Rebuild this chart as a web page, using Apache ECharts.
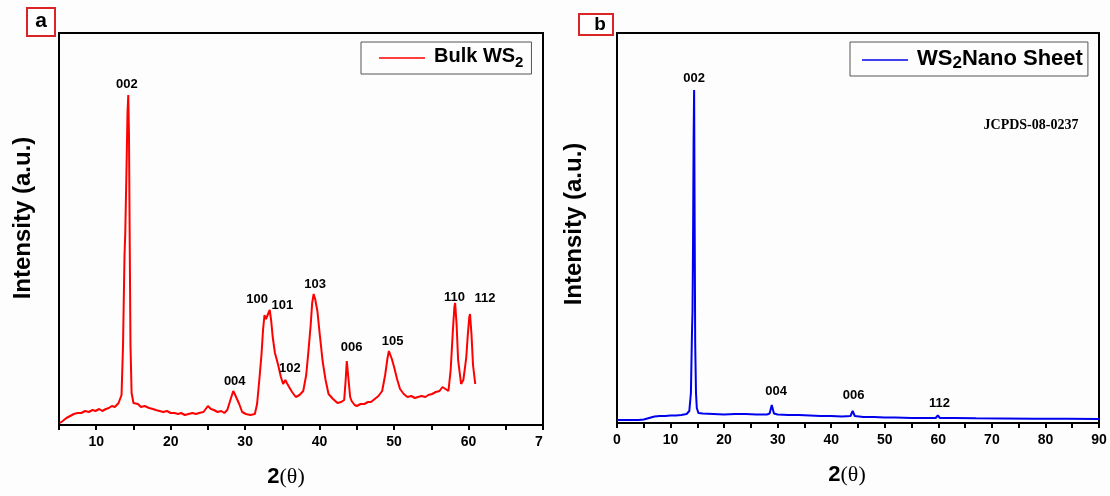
<!DOCTYPE html>
<html>
<head>
<meta charset="utf-8">
<script src="https://cdn.jsdelivr.net/npm/echarts@6/dist/echarts.min.js"></script>
<style>
  html, body { margin: 0; padding: 0; background: #fdfdfd; }
  #chart { width: 1110px; height: 496px; }
</style>
</head>
<body>
<div id="chart"></div>
<script>
// XRD patterns, [2theta, intensity a.u.]
const bulkWS2 = [
  [5.1,2],[5.5,4],[6.0,7],[6.5,9],[7.0,11],[7.5,12],[8.0,12],[8.5,14],[9.0,13],[9.5,15],[9.9,14],
  [10.4,16],[10.8,14],[11.3,16],[11.7,17],[12.1,19],[12.5,18],[13.0,22],[13.2,26],[13.4,30],
  [13.6,80],[13.8,170],[13.9,192],[14.05,250],[14.2,312],[14.3,330],[14.4,290],[14.5,180],[14.6,80],
  [14.75,32],[15.0,22],[15.2,20],[15.6,21],[16.0,18],[16.5,19],[17.1,17],[17.6,16],[18.0,15],[18.5,14],
  [19.0,13],[19.5,14],[20.0,12],[20.5,12],[21.0,11],[21.4,12],[21.9,10],[22.4,11],[22.9,12],[23.4,11],
  [23.8,12],[24.4,13],[25.0,19],[25.4,16],[25.8,15],[26.3,13],[26.8,14],[27.2,12],[27.6,15],[28.1,27],
  [28.4,34],[28.6,31],[28.8,33],[29.2,21],[29.6,13],[30.1,11],[30.7,10],[31.3,11],[31.6,21],[31.9,45],
  [32.2,71],[32.4,95],[32.6,110],[32.8,106],[33.0,108],[33.3,115],[33.5,104],[33.7,88],[34.0,72],
  [34.4,61],[34.8,48],[35.1,41],[35.4,45],[35.6,42],[35.9,38],[36.3,33],[36.8,28],[37.3,30],[37.8,34],
  [38.2,50],[38.5,74],[38.8,100],[39.0,122],[39.2,131],[39.4,126],[39.7,114],[40.0,92],[40.4,64],
  [40.8,45],[41.2,31],[41.8,26],[42.4,22],[42.9,23],[43.3,25],[43.5,45],[43.65,64],[43.85,48],[44.1,28],
  [44.3,24],[44.7,20],[45.0,19],[45.5,21],[46.0,21],[46.5,23],[46.9,23],[47.4,26],[47.9,29],[48.4,34],
  [48.8,50],[49.1,66],[49.3,74],[49.5,70],[49.7,66],[50.0,58],[50.4,46],[50.8,36],[51.3,31],[51.8,28],
  [52.3,29],[52.8,27],[53.2,28],[53.7,29],[54.2,28],[54.6,30],[55.1,31],[55.6,33],[56.1,34],[56.5,38],
  [56.9,36],[57.3,34],[57.6,55],[57.9,95],[58.1,118],[58.2,122],[58.4,100],[58.6,65],[59.0,41],
  [59.3,45],[59.5,56],[59.7,68],[59.9,90],[60.1,108],[60.2,111],[60.4,90],[60.6,60],[60.9,41]
];
const nanoWS2 = [
  [0,3],[2,3],[4,3],[5,3.5],[6,5],[7,6.5],[8,7],[9,7],[10,7.5],[11,7.5],[12,8],[13,9],[13.5,12],
  [13.8,30],[14.0,90],[14.1,112],[14.2,180],[14.3,280],[14.4,333],[14.5,200],[14.6,80],[14.75,30],
  [14.9,15],[15.2,10],[16,9.5],[18,9],[20,8.5],[22,9],[24,9],[26,8.5],[28,8.5],[28.5,9.5],[28.9,18],
  [29.3,9.5],[30,8.5],[32,8],[34,8],[36,7.5],[38,7],[40,7],[42,6.5],[43.6,7],[44.0,12],[44.4,7],
  [46,6],[48,6],[50,5.5],[52,5.5],[55,5],[57,5],[59.5,5],[59.9,7.5],[60.3,5],[63,5],[67,4.7],
  [72,4.5],[78,4.3],[84,4.2],[90,4]
];
// peak (hkl) labels: [2theta, height, text]
const bulkPeaks = [
  [14.1,341,'002'],[28.6,44,'004'],[31.6,126,'100'],[35.0,120,'101'],[36.0,57,'102'],
  [39.4,141,'103'],[44.3,78,'006'],[49.8,84,'105'],[58.1,128,'110'],[62.2,127,'112']
];
const nanoPeaks = [
  [14.4,345,'002'],[29.7,32,'004'],[44.2,28,'006'],[60.2,20,'112']
];
const bulkTicks = [5, 70];
const nanoTicks = [0, 90];

const sans = 'Liberation Sans, Arial, sans-serif';
const serif = 'Liberation Serif, Times New Roman, serif';

const chart = echarts.init(document.getElementById('chart'));

// the bulk panel's last label is cut to "7" in the original figure
const xAxisBase = (ticks, gridIndex, cutLast) => ({
  type: 'value',
  gridIndex,
  min: ticks[0],
  max: ticks[1],
  interval: 5,
  axisLine: { lineStyle: { color: '#000', width: 2 } },
  axisTick: { inside: false, length: 5, lineStyle: { color: '#000', width: 2 } },
  axisLabel: {
    color: '#000', fontFamily: sans, fontWeight: 'bold', fontSize: 14, margin: 10,
    showMinLabel: true, showMaxLabel: true,
    formatter: (v) => (v % 10 !== 0 ? '' : (cutLast && v === ticks[1] ? '{cut|7}' : String(v))),
    rich: { cut: { color: '#000', fontFamily: sans, fontWeight: 'bold', fontSize: 14, padding: [0, 8, 0, 0] } }
  },
  splitLine: { show: false },
  name: '{a|2}{b|(θ)}',
  nameLocation: 'middle',
  nameGap: 41,
  nameTextStyle: {
    padding: [0, cutLast ? 30 : 22, 0, 0],
    rich: {
      a: { fontFamily: sans, fontWeight: 'bold', fontSize: 22, color: '#000' },
      b: { fontFamily: serif, fontSize: 22, color: '#000' }
    }
  }
});

const yAxisBase = (max, gridIndex, gap, shift) => ({
  type: 'value',
  gridIndex,
  min: 0,
  max,
  axisLine: { show: true, lineStyle: { color: '#000', width: 2 } },
  axisTick: { show: false },
  axisLabel: { show: false },
  splitLine: { show: false },
  name: 'Intensity (a.u.)',
  nameLocation: 'middle',
  nameGap: gap,
  nameTextStyle: { fontFamily: sans, fontWeight: 'bold', fontSize: 24, color: '#000', padding: [0, 0, 0, shift] }
});

const peakMarks = (peaks) => ({
  symbol: 'circle',
  symbolSize: 0,
  silent: true,
  label: {
    show: true, position: 'inside', formatter: '{b}',
    color: '#000', fontFamily: sans, fontWeight: 'bold', fontSize: 13
  },
  data: peaks.map((p) => ({ name: p[2], coord: [p[0], p[1]] }))
});

const legendBase = (name, left, text, size, pad) => ({
  left, top: 42,
  data: [{ name, icon: 'rect' }],
  borderColor: '#555',
  borderWidth: 1,
  padding: pad,
  itemWidth: 46,
  itemHeight: 1.5,
  itemGap: 0,
  selectedMode: false,
  formatter: () => text,
  textStyle: {
    padding: [0, 0, 0, 4],
    rich: {
      m: { fontFamily: sans, fontWeight: 'bold', fontSize: size, color: '#000', lineHeight: 24, verticalAlign: 'top' },
      s: { fontFamily: sans, fontWeight: 'bold', fontSize: size - 5, color: '#000', lineHeight: 22, padding: [8, 0, 0, 0], verticalAlign: 'bottom' }
    }
  }
});

const option = {
  backgroundColor: '#fdfdfd',
  animation: false,
  grid: [
    { left: 59, top: 33, width: 484, height: 392, show: true, borderColor: '#000', borderWidth: 2 },
    { left: 617, top: 33, width: 482, height: 390, show: true, borderColor: '#000', borderWidth: 2 }
  ],
  xAxis: [xAxisBase(bulkTicks, 0, true), xAxisBase(nanoTicks, 1, false)],
  yAxis: [yAxisBase(392, 0, 24, 22), yAxisBase(390, 1, 31, 8)],
  legend: [
    legendBase('Bulk WS2', 361, '{m|Bulk WS}{s|2}', 20, [4, 8, 4, 18]),
    legendBase('WS2Nano Sheet', 850, '{m|WS}{s|2}{m|Nano Sheet}', 22, [5, 5, 4, 12])
  ],
  series: [
    {
      name: 'Bulk WS2', type: 'line', xAxisIndex: 0, yAxisIndex: 0,
      data: bulkWS2, symbol: 'none', color: '#ff0000',
      lineStyle: { color: '#ff0000', width: 2 },
      markPoint: peakMarks(bulkPeaks)
    },
    {
      name: 'WS2Nano Sheet', type: 'line', xAxisIndex: 1, yAxisIndex: 1,
      data: nanoWS2, symbol: 'none', color: '#0000ee',
      lineStyle: { color: '#0000ee', width: 2 },
      markPoint: peakMarks(nanoPeaks)
    }
  ],
  graphic: [
    { type: 'rect', shape: { x: 27, y: 8, width: 28, height: 28 }, style: { fill: '#fff', stroke: '#d92525', lineWidth: 2 } },
    { type: 'text', x: 41, y: 21, style: { text: 'a', fontFamily: sans, fontWeight: 'bold', fontSize: 21, fill: '#000', align: 'center', verticalAlign: 'middle' } },
    { type: 'rect', shape: { x: 579, y: 14, width: 34, height: 21 }, style: { fill: '#fff', stroke: '#d92525', lineWidth: 2 } },
    { type: 'text', x: 600, y: 25, style: { text: 'b', fontFamily: sans, fontWeight: 'bold', fontSize: 19, fill: '#000', align: 'center', verticalAlign: 'middle' } },
    { type: 'text', x: 1031, y: 125, style: { text: 'JCPDS-08-0237', fontFamily: serif, fontWeight: 'bold', fontSize: 14, fill: '#000', align: 'center', verticalAlign: 'middle' } }
  ]
};

chart.setOption(option);
</script>
</body>
</html>
